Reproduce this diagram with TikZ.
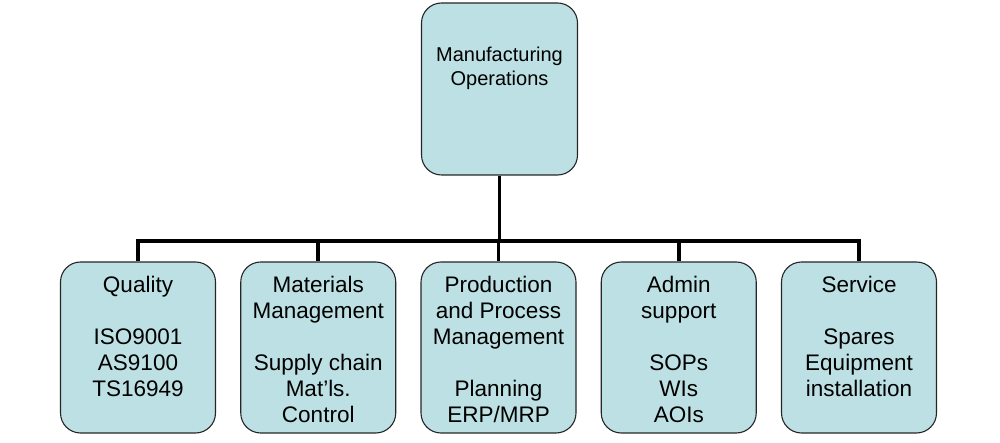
\documentclass[tikz,border=0pt]{standalone}
\usepackage{fontspec}
\setmainfont{Liberation Sans}
\usepackage{tikz}
\usetikzlibrary{positioning}
\definecolor{boxteal}{RGB}{188,224,227}

\begin{document}
\begin{tikzpicture}[unit/.style={draw=black!85,line width=1.1pt,fill=boxteal,rounded corners=20pt,minimum width=155pt,minimum height=171pt},
txt/.style={align=center,inner sep=0pt,font=\fontsize{22.5pt}{26pt}\selectfont},
wire/.style={line width=3.8pt,black}]
\useasboundingbox (0,0) rectangle (1000pt,-443pt);
\node[unit,minimum width=156pt,minimum height=172pt] (mfg) at (499.5pt,-89pt) {};
\node[unit] (qual) at (138pt,-347.5pt) {};
\node[unit,right=24.15pt of qual] (mat) {};
\node[unit,right=24.15pt of mat] (prod) {};
\node[unit,right=24.15pt of prod] (adm) {};
\node[unit,right=24.15pt of adm] (svc) {};
\node[txt,font=\fontsize{20pt}{24pt}\selectfont,below=44pt of mfg.north] (mfgtxt) {Manufacturing\\Operations};
\node[txt,below=15pt of qual.north] (qualtxt) {Quality\\[\baselineskip]ISO9001\\AS9100\\TS16949};
\node[txt,below=15pt of mat.north] (mattxt) {Materials\\Management\\[\baselineskip]Supply chain\\Mat’ls.\\Control};
\node[txt,below=15pt of prod.north] (prodtxt) {Production\\and Process\\Management\\[\baselineskip]Planning\\ERP/MRP};
\node[txt,below=15pt of adm.north] (admtxt) {Admin\\support\\[\baselineskip]SOPs\\WIs\\AOIs};
\node[txt,below=15pt of svc.north] (svctxt) {Service\\[\baselineskip]Spares\\Equipment\\installation};
\coordinate (bar) at (0,-241pt);
\foreach \n in {qual,mat,prod,adm,svc} \draw[wire] (mfg.south) -- (mfg.south |- bar) -| (\n.north);
\end{tikzpicture}
\end{document}
